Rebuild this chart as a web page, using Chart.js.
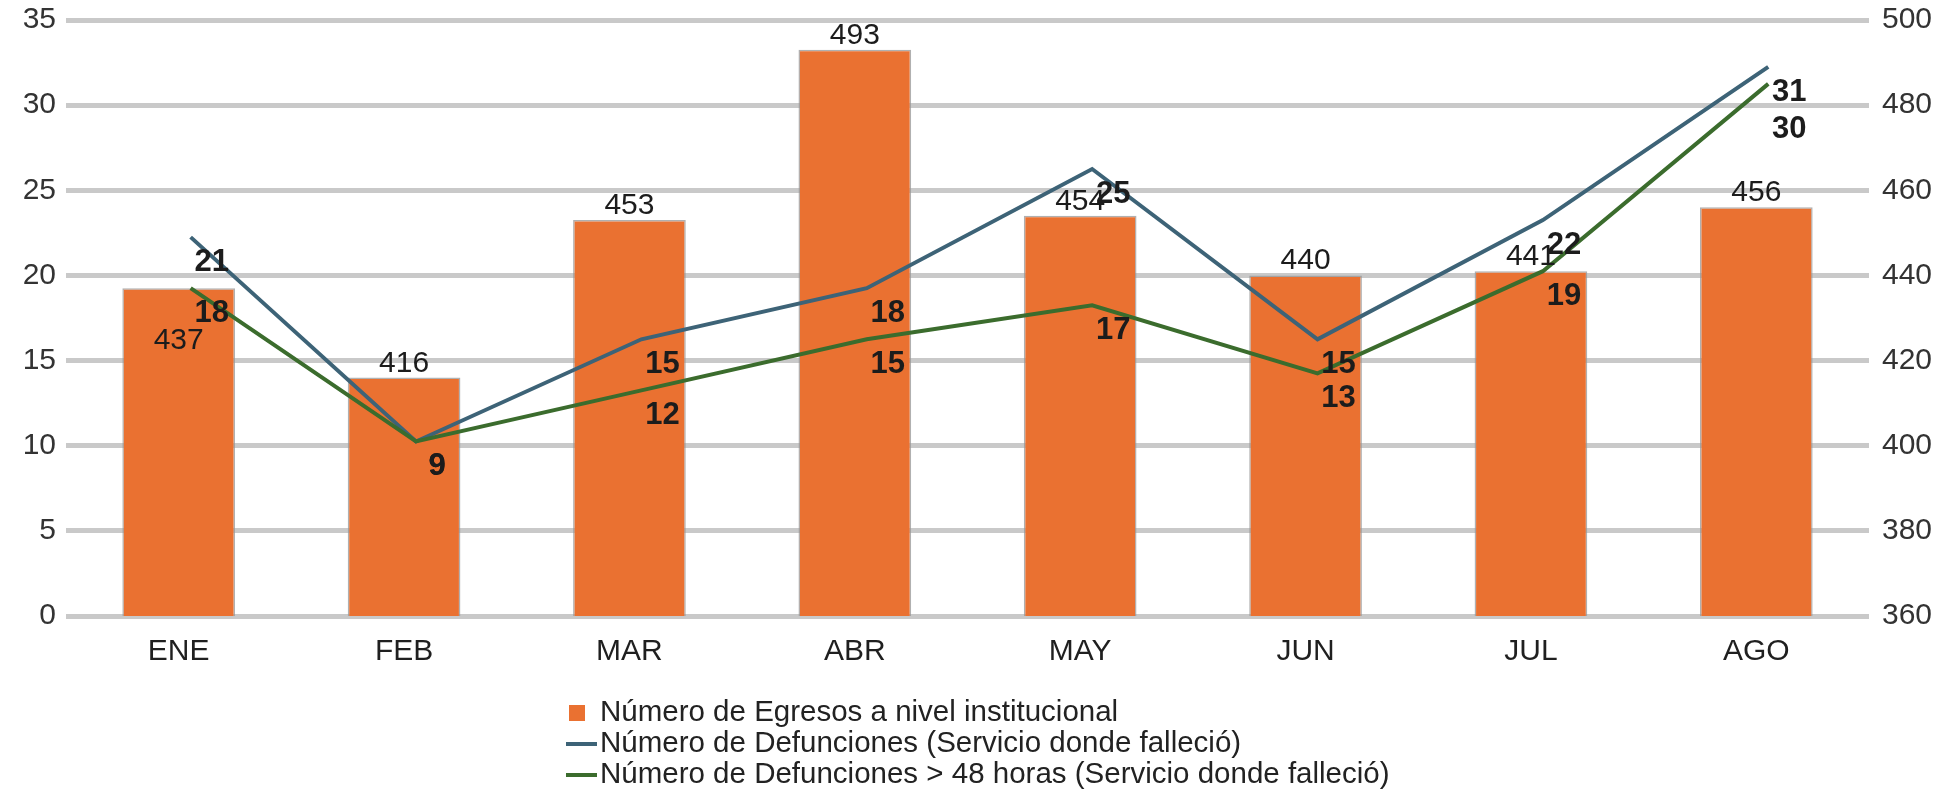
<!DOCTYPE html>
<html>
<head>
<meta charset="utf-8">
<script src="https://cdn.jsdelivr.net/npm/chart.js@4.4.1/dist/chart.umd.min.js"></script>
<style>
  html, body { margin: 0; padding: 0; background: #fff; }
</style>
</head>
<body>
<canvas id="grafico" width="1951" height="793"></canvas>
<script>
// datos
const meses = ['ENE', 'FEB', 'MAR', 'ABR', 'MAY', 'JUN', 'JUL', 'AGO'];
const egresos = [437, 416, 453, 493, 454, 440, 441, 456];
const defunciones = [21, 9, 15, 18, 25, 15, 22, 31];
const defunciones48 = [18, 9, 12, 15, 17, 13, 19, 30];
const ticksIzq = [0, 5, 10, 15, 20, 25, 30, 35];
const ticksDer = [360, 380, 400, 420, 440, 460, 480, 500];

const nombres = [
  'Número de Egresos a nivel institucional',
  'Número de Defunciones (Servicio donde falleció)',
  'Número de Defunciones > 48 horas (Servicio donde falleció)'
];

// estilo
const fuente = '"Liberation Sans", Arial, sans-serif';
const naranja = '#EA7131';
const azul = '#3D6377';
const verde = '#3B6C2D';
// en el original las líneas quedan algo desplazadas respecto a su eje
const desfaseY = 1.25;
const desfaseX = 0.053;
// ajustes de las etiquetas que el original movió para que no se pisen
const bajarEgresos = [67, 0, 0, 0, 0, 0, 0, 0];
const bajarDef = [0, 0, 0, 0, 0, 0, 0, 0];
const bajarDef48 = [0, 0, 0, 0, 0, 0, 0, 20];

const puntos = (serie) => serie.map((v, i) => ({ x: i, y: v }));

const etiquetas = {
  id: 'etiquetas',
  afterDatasetsDraw(chart) {
    const ctx = chart.ctx;
    ctx.save();
    ctx.textAlign = 'center';
    ctx.textBaseline = 'alphabetic';
    ctx.fillStyle = '#1c1c1c';
    ctx.font = '30px ' + fuente;
    chart.getDatasetMeta(0).data.forEach((el, i) => {
      ctx.fillText(String(egresos[i]), el.x, el.y - 6 + bajarEgresos[i]);
    });
    ctx.font = 'bold 31px ' + fuente;
    [[1, defunciones, bajarDef], [2, defunciones48, bajarDef48]].forEach(([idx, serie, bajar]) => {
      chart.getDatasetMeta(idx).data.forEach((el, i) => {
        ctx.fillText(String(serie[i]), el.x + 21, el.y + 34 + bajar[i]);
      });
    });
    ctx.restore();
  }
};

const leyenda = {
  id: 'leyenda',
  afterDraw(chart) {
    const ctx = chart.ctx;
    ctx.save();
    ctx.font = '29.5px ' + fuente;
    ctx.textAlign = 'left';
    ctx.textBaseline = 'middle';
    chart.data.datasets.forEach((ds, i) => {
      const y = 713 + i * 31;
      if (ds.type === 'line') {
        ctx.fillStyle = ds.borderColor;
        ctx.fillRect(566, y - 2, 31, 4);
      } else {
        ctx.fillStyle = ds.backgroundColor;
        ctx.fillRect(569, y - 8, 16, 16);
      }
      ctx.fillStyle = '#222';
      ctx.fillText(ds.label, 600, y);
    });
    ctx.restore();
  }
};

new Chart(document.getElementById('grafico').getContext('2d'), {
  type: 'bar',
  data: {
    labels: meses,
    datasets: [
      {
        label: nombres[0],
        data: egresos,
        backgroundColor: naranja,
        borderColor: 'rgba(150,150,150,0.75)',
        borderWidth: 1.5,
        xAxisID: 'x',
        yAxisID: 'y1',
        grouped: false,
        categoryPercentage: 1,
        barPercentage: 0.5,
        order: 3
      },
      {
        type: 'line',
        label: nombres[1],
        data: puntos(defunciones),
        borderColor: azul,
        backgroundColor: azul,
        borderWidth: 4,
        pointRadius: 0,
        tension: 0,
        xAxisID: 'xl',
        yAxisID: 'yl',
        order: 2
      },
      {
        type: 'line',
        label: nombres[2],
        data: puntos(defunciones48),
        borderColor: verde,
        backgroundColor: verde,
        borderWidth: 4,
        pointRadius: 0,
        tension: 0,
        xAxisID: 'xl',
        yAxisID: 'yl',
        order: 1
      }
    ]
  },
  options: {
    responsive: false,
    animation: false,
    layout: { padding: { top: 20, bottom: 0, left: 0, right: 0 } },
    plugins: {
      legend: { display: false },
      tooltip: { enabled: false }
    },
    scales: {
      x: {
        type: 'category',
        position: 'bottom',
        weight: 1,
        grid: { display: false },
        border: { display: false },
        ticks: { color: '#1f1f1f', font: { family: fuente, size: 30 }, padding: 10, maxRotation: 0 },
        afterFit: (s) => { s.height = 177; s.paddingLeft = 0; s.paddingRight = 0; }
      },
      xl: {
        type: 'linear',
        position: 'bottom',
        weight: 2,
        offset: false,
        bounds: 'data',
        min: -0.5 - desfaseX,
        max: meses.length - 0.5 - desfaseX,
        grid: { display: false, drawTicks: false, offset: false },
        border: { display: false },
        ticks: { display: false },
        afterFit: (s) => { s.height = 0; s.paddingLeft = 0; s.paddingRight = 0; }
      },
      y: {
        type: 'linear',
        position: 'left',
        min: ticksIzq[0],
        max: ticksIzq[ticksIzq.length - 1],
        afterBuildTicks: (s) => { s.ticks = ticksIzq.map(v => ({ value: v })); },
        grid: { color: '#c9c9c9', lineWidth: 5, drawTicks: false },
        border: { display: false },
        ticks: { color: '#333', font: { family: fuente, size: 30 }, padding: 10 },
        afterFit: (s) => { s.width = 66; s.paddingTop = 0; s.paddingBottom = 0; }
      },
      y1: {
        type: 'linear',
        position: 'right',
        min: ticksDer[0],
        max: ticksDer[ticksDer.length - 1],
        afterBuildTicks: (s) => { s.ticks = ticksDer.map(v => ({ value: v })); },
        grid: { drawOnChartArea: false, drawTicks: false },
        border: { display: false },
        ticks: { color: '#333', font: { family: fuente, size: 30 }, padding: 13 },
        afterFit: (s) => { s.width = 82; s.paddingTop = 0; s.paddingBottom = 0; }
      },
      yl: {
        type: 'linear',
        position: 'left',
        bounds: 'data',
        min: ticksIzq[0] - desfaseY,
        max: ticksIzq[ticksIzq.length - 1] - desfaseY,
        grid: { display: false, drawTicks: false },
        border: { display: false },
        ticks: { display: false },
        afterFit: (s) => { s.width = 0; s.paddingTop = 0; s.paddingBottom = 0; }
      }
    }
  },
  plugins: [etiquetas, leyenda]
});
</script>
</body>
</html>
